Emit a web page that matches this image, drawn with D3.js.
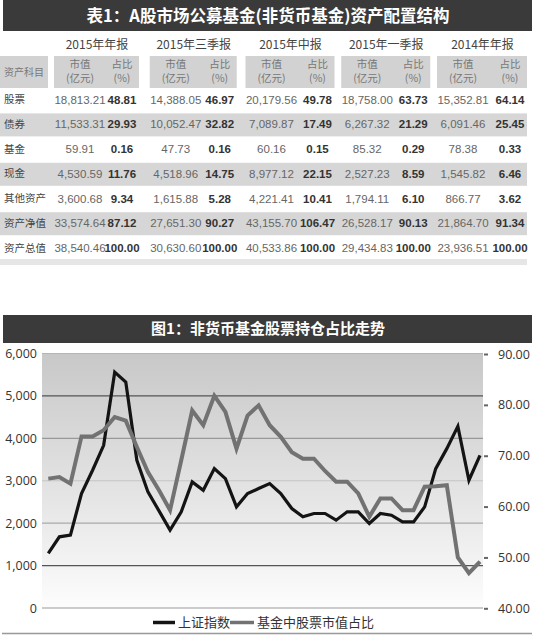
<!DOCTYPE html>
<html><head><meta charset="utf-8">
<script src="https://cdn.jsdelivr.net/npm/d3@7"></script>
<style>body{margin:0;background:#fff}svg{display:block}</style>
</head><body><svg id="c" width="535" height="636"></svg>
<script>
// ---------- data ----------
const tableTitle = "表1：A股市场公募基金(非货币基金)资产配置结构";
const reports = ["2015年年报","2015年三季报","2015年中报","2015年一季报","2014年年报"];
const headerItem = "资产科目";
const headerValue = ["市值","(亿元)"];
const headerShare = ["占比","(%)"];
const assetItems = ["股票","债券","基金","现金","其他资产","资产净值","资产总值"];
const marketValues = [
  ["18,813.21","14,388.05","20,179.56","18,758.00","15,352.81"],
  ["11,533.31","10,052.47","7,089.87","6,267.32","6,091.46"],
  ["59.91","47.73","60.16","85.32","78.38"],
  ["4,530.59","4,518.96","8,977.12","2,527.23","1,545.82"],
  ["3,600.68","1,615.88","4,221.41","1,794.11","866.77"],
  ["33,574.64","27,651.30","43,155.70","26,528.17","21,864.70"],
  ["38,540.46","30,630.60","40,533.86","29,434.83","23,936.51"]
];
const shares = [
  ["48.81","46.97","49.78","63.73","64.14"],
  ["29.93","32.82","17.49","21.29","25.45"],
  ["0.16","0.16","0.15","0.29","0.33"],
  ["11.76","14.75","22.15","8.59","6.46"],
  ["9.34","5.28","10.41","6.10","3.62"],
  ["87.12","90.27","106.47","90.13","91.34"],
  ["100.00","100.00","100.00","100.00","100.00"]
];
const chartTitle = "图1：非货币基金股票持仓占比走势";
const quarters = [
  "2006Q1","2006Q2","2006Q3","2006Q4","2007Q1","2007Q2","2007Q3","2007Q4",
  "2008Q1","2008Q2","2008Q3","2008Q4","2009Q1","2009Q2","2009Q3","2009Q4",
  "2010Q1","2010Q2","2010Q3","2010Q4","2011Q1","2011Q2","2011Q3","2011Q4",
  "2012Q1","2012Q2","2012Q3","2012Q4","2013Q1","2013Q2","2013Q3","2013Q4",
  "2014Q1","2014Q2","2014Q3","2014Q4","2015Q1","2015Q2","2015Q3","2015Q4"
];
const shIndex = [1290,1678,1718,2699,3247,3835,5560,5325,3482,2737,2290,1835,
  2260,2972,2776,3286,3051,2384,2698,2816,2933,2698,2345,2149,2228,2228,2071,2267,
  2267,1992,2228,2188,2031,2031,2384,3286,3757,4282,3012,3600];
const fundStockRatio = [65.5,65.8,64.5,73.8,73.8,75.0,77.6,76.9,71.7,66.8,63.2,59.3,
  69.0,78.9,76.0,81.8,78.6,71.4,77.9,79.9,76.0,73.7,70.7,69.4,69.4,67.0,64.9,64.9,
  62.6,58.0,61.6,61.6,59.3,59.3,63.9,64.0,64.2,50.0,46.9,49.2];
const leftTicks = [0,1000,2000,3000,4000,5000,6000];
const rightTicks = [40,50,60,70,80,90];
const seriesNames = ["上证指数","基金中股票市值占比"];

// ---------- drawing ----------
const svg = d3.select("#c");
const CJK = "'Noto Sans CJK SC','Noto Sans',sans-serif";
const NUM = "'Liberation Sans',Arial,sans-serif";

// table title
svg.append("rect").attr("x",3).attr("y",0).attr("width",529).attr("height",31).attr("fill","#3a3a3a");
svg.append("text").attr("x",268).attr("y",16).attr("dy","0.36em").attr("text-anchor","middle")
  .attr("fill","#fff").attr("font-family",CJK).attr("font-weight","bold").attr("font-size",16.5)
  .text(tableTitle);

const gx = d3.scalePoint().domain(reports).range([80,463]);
const pctOff = [42,44,46,46,47];
const rowY = d3.scalePoint().domain(assetItems).range([99.7,247.9]);

// header
reports.forEach((r,i)=>{
  const vc = gx(r), pc = vc + pctOff[i];
  svg.append("text").attr("x",(vc+pc)/2-4).attr("y",45).attr("dy","0.35em").attr("text-anchor","middle")
    .attr("fill","#444").attr("font-family",CJK).attr("font-size",12).text(r);
  svg.append("rect").attr("x",vc-26).attr("y",56).attr("width",(pc+17)-(vc-26)).attr("height",32).attr("fill","#d2d2d2");
  [[vc,headerValue],[pc,headerShare]].forEach(([cx,lines])=>{
    lines.forEach((t,j)=>{
      svg.append("text").attr("x",cx).attr("y",64.5+j*14).attr("dy","0.35em").attr("text-anchor","middle")
        .attr("fill","#777").attr("font-family",CJK).attr("font-size",10.5).text(t);
    });
  });
});
svg.append("rect").attr("x",0).attr("y",56).attr("width",48).attr("height",32).attr("fill","#d2d2d2");
svg.append("text").attr("x",24).attr("y",72).attr("dy","0.35em").attr("text-anchor","middle")
  .attr("fill","#777").attr("font-family",CJK).attr("font-size",10).text(headerItem);

// rows
assetItems.forEach((item,k)=>{
  const y = rowY(item);
  if (k % 2 === 1) {
    svg.append("rect").attr("x",0).attr("y",y-11).attr("width",527).attr("height",23).attr("fill","#d6d6d6");
  }
  svg.append("text").attr("x",4).attr("y",y).attr("dy","0.35em").attr("fill","#444")
    .attr("font-family",CJK).attr("font-size",10.5).text(item);
  reports.forEach((r,i)=>{
    const vc = gx(r), pc = vc + pctOff[i];
    svg.append("text").attr("x",vc).attr("y",y).attr("dy","0.35em").attr("text-anchor","middle")
      .attr("fill","#666").attr("font-family",NUM).attr("font-size",11.5).text(marketValues[k][i]);
    svg.append("text").attr("x",pc).attr("y",y).attr("dy","0.35em").attr("text-anchor","middle")
      .attr("fill","#333").attr("font-family",NUM).attr("font-weight","bold").attr("font-size",11.5).text(shares[k][i]);
  });
});
svg.append("rect").attr("x",0).attr("y",259).attr("width",527).attr("height",6).attr("fill","#e6e6e6");

// chart title
svg.append("rect").attr("x",3).attr("y",315).attr("width",529).attr("height",28).attr("fill","#3a3a3a");
svg.append("text").attr("x",268).attr("y",329).attr("dy","0.36em").attr("text-anchor","middle")
  .attr("fill","#fff").attr("font-family",CJK).attr("font-weight","bold").attr("font-size",15)
  .text(chartTitle);

// plot
const plotL = 42, plotR = 483, plotT = 353.5, plotB = 608;
const x = d3.scalePoint().domain(quarters).range([48.3,480]);
const yL = d3.scaleLinear().domain([0,6000]).range([plotB,plotT]);
const yR = d3.scaleLinear().domain([40,90]).range([608.3,354]);

const defs = svg.append("defs");
const grad = defs.append("linearGradient").attr("id","bg").attr("x1",0).attr("y1",0).attr("x2",0).attr("y2",1);
grad.append("stop").attr("offset","0%").attr("stop-color","#c8c8c8");
grad.append("stop").attr("offset","55%").attr("stop-color","#e4e4e4");
grad.append("stop").attr("offset","100%").attr("stop-color","#fdfdfd");
svg.append("rect").attr("x",plotL).attr("y",plotT).attr("width",plotR-plotL).attr("height",plotB-plotT).attr("fill","url(#bg)");

const gridColor = {0:"#999",1000:"#555",2000:"#aaa",3000:"#c4c4c4",4000:"#999",5000:"#555",6000:"#b5b5b5"};
leftTicks.forEach(t=>{
  svg.append("line").attr("x1",plotL).attr("x2",plotR).attr("y1",yL(t)).attr("y2",yL(t))
    .attr("stroke",gridColor[t]).attr("stroke-width",1.2);
});

const axL = svg.append("g").attr("transform",`translate(${plotL},0)`)
  .call(d3.axisLeft(yL).tickValues(leftTicks).tickFormat(d3.format(",")).tickSize(0).tickPadding(5));
axL.select(".domain").remove();
axL.selectAll("text").attr("font-family","'Open Sans',sans-serif").attr("font-size",12.5).attr("fill","#333");

const axR = svg.append("g").attr("transform",`translate(${plotR},0)`)
  .call(d3.axisRight(yR).tickValues(rightTicks).tickFormat(d3.format(".2f")).tickSize(4).tickPadding(11));
axR.select(".domain").remove();
axR.selectAll("line").attr("stroke","#666").attr("stroke-width",2).attr("transform","translate(1,0)");
axR.selectAll("text").attr("font-family","'Open Sans',sans-serif").attr("font-size",12.5).attr("fill","#333");

const lineL = d3.line().x((d,i)=>x(quarters[i])).y(d=>yL(d));
const lineR = d3.line().x((d,i)=>x(quarters[i])).y(d=>yR(d));
svg.append("path").datum(shIndex).attr("d",lineL).attr("fill","none")
  .attr("stroke","#141414").attr("stroke-width",3.2).attr("stroke-linejoin","miter");
svg.append("path").datum(fundStockRatio).attr("d",lineR).attr("fill","none")
  .attr("stroke","#727272").attr("stroke-width",4).attr("stroke-linejoin","miter");

// legend
const lg = svg.append("g").attr("font-family",CJK).attr("font-size",13).attr("fill","#333");
lg.append("line").attr("x1",153).attr("x2",175).attr("y1",622.5).attr("y2",622.5).attr("stroke","#141414").attr("stroke-width",3.5);
lg.append("text").attr("x",178).attr("y",622.5).attr("dy","0.36em").text(seriesNames[0]);
lg.append("line").attr("x1",230).attr("x2",254).attr("y1",622.5).attr("y2",622.5).attr("stroke","#727272").attr("stroke-width",3.5);
lg.append("text").attr("x",257).attr("y",622.5).attr("dy","0.36em").text(seriesNames[1]);

svg.append("line").attr("x1",2).attr("x2",532).attr("y1",633.5).attr("y2",633.5).attr("stroke","#999").attr("stroke-width",1.5);
</script></body></html>
